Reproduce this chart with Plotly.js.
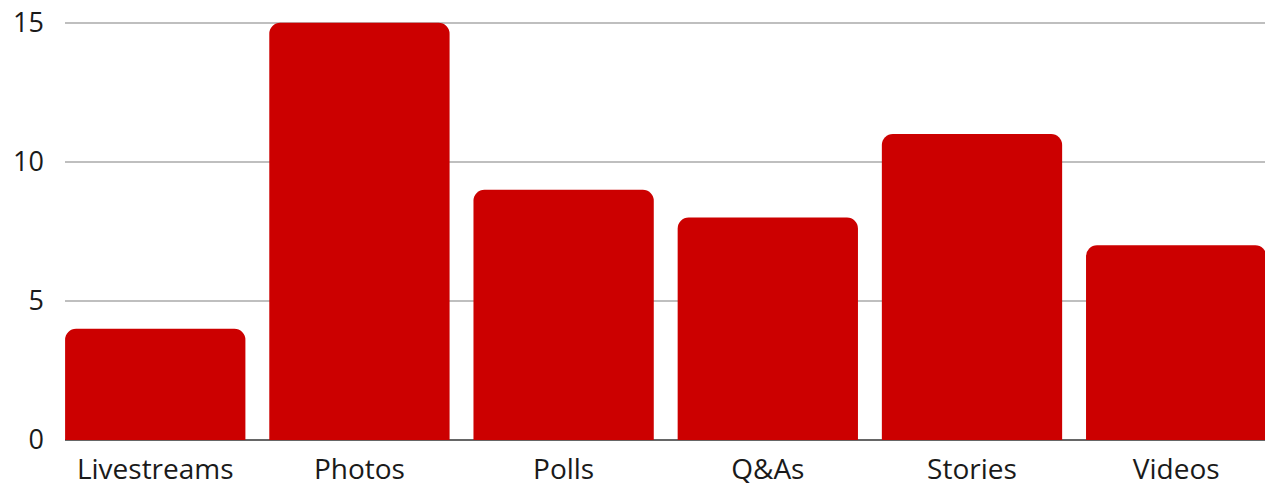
<!DOCTYPE html>
<html>
<head>
<meta charset="utf-8">
<script src="https://cdn.plot.ly/plotly-3.0.1.min.js"></script>
<style>html,body{margin:0;padding:0;background:#fff;}#chart{width:1265px;height:483px;}</style>
</head>
<body>
<div id="chart"></div>
<script>
const categories = ["Livestreams", "Photos", "Polls", "Q&As", "Stories", "Videos"];
const values = [4, 15, 9, 8, 11, 7];
const yTicks = [0, 5, 10, 15];

const trace = {
  type: "bar",
  x: categories,
  y: values,
  marker: { color: "#CC0000", cornerradius: 11 },
  hoverinfo: "x+y"
};

const layout = {
  width: 1265,
  height: 483,
  margin: { l: 65, r: 0, t: 20, b: 43, pad: 0 },
  paper_bgcolor: "#ffffff",
  plot_bgcolor: "#ffffff",
  bargap: 0.117,
  showlegend: false,
  font: { family: "Open Sans, sans-serif", color: "#1a1a1a" },
  xaxis: {
    type: "category",
    range: [-0.442, 5.435],
    showgrid: false,
    showline: false,
    zeroline: false,
    ticks: "",
    tickfont: { size: 28, color: "#1a1a1a" },
    ticklabelstandoff: 10,
    fixedrange: true
  },
  yaxis: {
    range: [0, 15.1],
    tickvals: yTicks,
    ticktext: yTicks.map(String),
    showgrid: true,
    gridcolor: "#bfbfbf",
    gridwidth: 1.6,
    zeroline: true,
    zerolinecolor: "#666666",
    zerolinewidth: 1.6,
    showline: false,
    ticks: "",
    tickfont: { size: 27, color: "#1a1a1a" },
    ticklabelstandoff: 20,
    fixedrange: true
  }
};

Plotly.newPlot("chart", [trace], layout, { displayModeBar: false, staticPlot: true });
</script>
</body>
</html>
